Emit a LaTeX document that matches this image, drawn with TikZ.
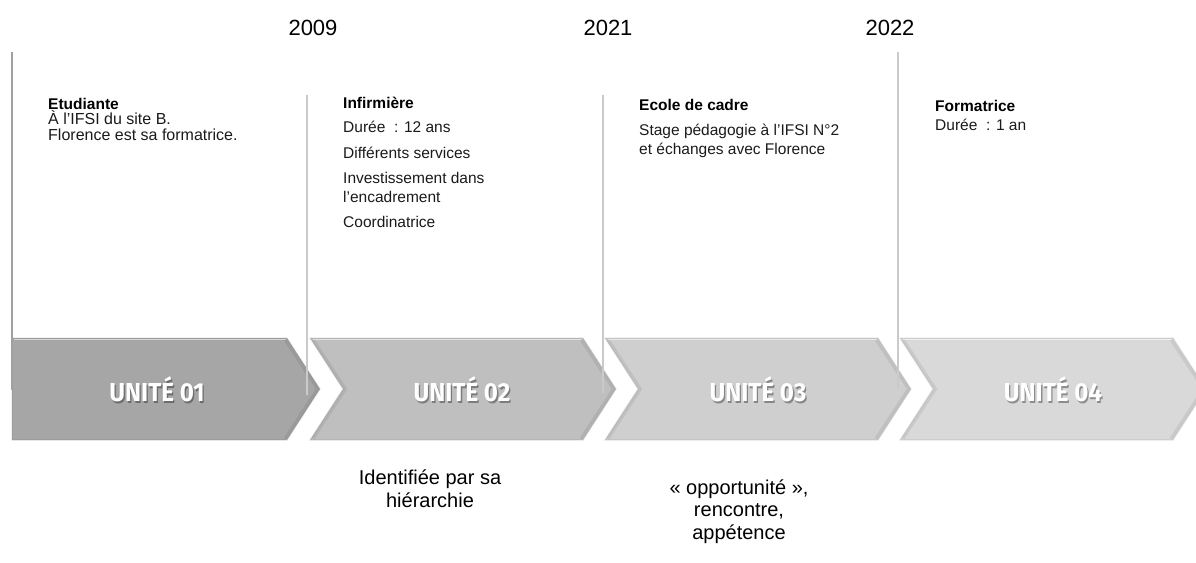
\documentclass[tikz,border=0pt]{standalone}
\usepackage{fontspec}
\setmainfont{Liberation Sans}
\newfontfamily\unitfont[FakeStretch=0.93]{Fira Sans}
\usetikzlibrary{calc}
\definecolor{cA}{HTML}{A6A6A6}
\definecolor{cB}{HTML}{BFBFBF}
\definecolor{cC}{HTML}{CFCFCF}
\definecolor{cD}{HTML}{D9D9D9}
\definecolor{lineA}{HTML}{A0A0A0}
\definecolor{lineB}{HTML}{CACACA}
\definecolor{txtgray}{HTML}{1A1A1A}
\tikzset{
  chevfill/.style={fill=#1, draw=black, draw opacity=0.08, line width=1.4pt, line join=miter},
  tophl/.style={draw=white, draw opacity=0.55, line width=1.6pt},
  edgesh/.style={draw=black, draw opacity=0.07, line width=3pt},
  unitlbl/.style={inner sep=0, text=white, font=\unitfont\bfseries\fontsize{26}{30}\selectfont},
  unitshd/.style={inner sep=0, text=black, text opacity=0.35, font=\unitfont\bfseries\fontsize{26}{30}\selectfont},
  vline/.style={draw=#1, line width=1.1pt},
  txt/.style={anchor=base west, inner sep=0, text=txtgray, font=\fontsize{15.5}{18}\selectfont},
  txtA/.style={anchor=base west, inner sep=0, text=txtgray, font=\fontsize{16}{18}\selectfont},
  head/.style={anchor=base west, inner sep=0, text=black, font=\bfseries\fontsize{15.5}{18}\selectfont},
  yearlbl/.style={inner sep=0, text=black, font=\fontsize{22}{26}\selectfont},
  bottomtxt/.style={inner sep=0, align=center, text=black, font=\fontsize{20}{22.5}\selectfont},
}
\begin{document}
\begin{tikzpicture}[x=1pt,y=-1pt]
\useasboundingbox (0,0) rectangle (1196,562);
\begin{scope}
\clip (0,0) rectangle (1196,562);
% chevrons
\path[chevfill=cA] (12,338) -- (287,338) -- (320,389) -- (287,440) -- (12,440) -- cycle;
\path[chevfill=cB] (310,338) -- (583,338) -- (616,389) -- (583,440) -- (310,440) -- (343,389) -- cycle;
\path[chevfill=cC] (605,338) -- (878,338) -- (911,389) -- (878,440) -- (605,440) -- (638,389) -- cycle;
\path[chevfill=cD] (900,338) -- (1173,338) -- (1206,389) -- (1173,440) -- (900,440) -- (933,389) -- cycle;
% bevel shading
\draw[edgesh] (285,339.5) -- (317.5,389) -- (285,438.5);
\draw[edgesh] (581,339.5) -- (613.5,389) -- (581,438.5);
\draw[edgesh] (876,339.5) -- (908.5,389) -- (876,438.5);
\draw[edgesh] (1171,339.5) -- (1203.5,389) -- (1171,438.5);
\draw[edgesh] (313,339.5) -- (345.5,389) -- (313,438.5);
\draw[edgesh] (608,339.5) -- (640.5,389) -- (608,438.5);
\draw[edgesh] (903,339.5) -- (935.5,389) -- (903,438.5);
\draw[tophl] (14,339.5) -- (286,339.5);
\draw[tophl] (313,339.5) -- (582,339.5);
\draw[tophl] (608,339.5) -- (877,339.5);
\draw[tophl] (903,339.5) -- (1172,339.5);
\end{scope}
% labels in chevrons
\foreach \n/\x in {1/157,2/462,3/758,4/1053}{
  \node[unitshd] (us\n) at (\x+1.3,389+1.8) {UNITÉ 0\n};
  \node[unitlbl] (u\n) at (\x,389) {UNITÉ 0\n};
}
% vertical lines
\coordinate (l1t) at (12,52);  \coordinate (l1b) at (12,390);
\coordinate (l2t) at (307,95); \coordinate (l2b) at (307,395);
\coordinate (l3t) at (603,95); \coordinate (l3b) at (603,393);
\coordinate (l4t) at (898,52); \coordinate (l4b) at (898,389);
\draw[vline=lineA] (l1t) -- (l1b);
\draw[vline=lineB] (l2t) -- (l2b);
\draw[vline=lineB] (l3t) -- (l3b);
\draw[vline=lineB] (l4t) -- (l4b);
% years
\node[yearlbl] (y1) at (313,28) {2009};
\node[yearlbl] (y2) at (608,28) {2021};
\node[yearlbl] (y3) at (890,28) {2022};
% column 1
\node[head] (a1) at (48,109) {Etudiante};
\node[txtA] (a2) at (48,124.5) {À l’IFSI du site B.};
\node[txtA] (a3) at (48,140) {Florence est sa formatrice.};
% column 2
\node[head] (b1) at (343,108) {Infirmière};
\node[txt]  (b2) at (343,132.5) {Durée~~: 12 ans};
\node[txt]  (b3) at (343,158) {Différents services};
\node[txt]  (b4) at (343,183) {Investissement dans};
\node[txt]  (b5) at (343,202) {l’encadrement};
\node[txt]  (b6) at (343,227.5) {Coordinatrice};
% column 3
\node[head] (c1) at (639,110.5) {Ecole de cadre};
\node[txt]  (c2) at (639,135.5) {Stage pédagogie à l’IFSI N°2};
\node[txt]  (c3) at (639,154) {et échanges avec Florence};
% column 4
\node[head] (d1) at (935,111.5) {Formatrice};
\node[txt]  (d2) at (935,130.5) {Durée~~: 1 an};
% bottom texts
\node[bottomtxt, anchor=north] (e1) at (430,470) {Identifiée par sa\\hiérarchie};
\node[bottomtxt, anchor=north] (f1) at (739,479.5) {« opportunité »,\\rencontre,\\appétence};
\end{tikzpicture}
\end{document}
